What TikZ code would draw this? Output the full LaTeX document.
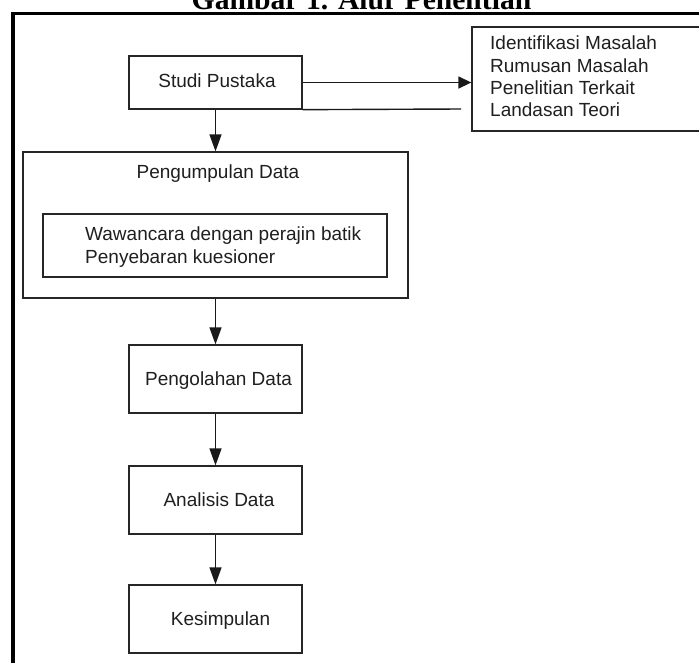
\documentclass[tikz,border=0pt]{standalone}
\usepackage{fontspec}
\setmainfont{Liberation Sans}
\newfontfamily\titlefont{Liberation Serif}
\usetikzlibrary{arrows.meta}
\begin{document}
\begin{tikzpicture}[x=1pt,y=-1pt,
  box/.style={draw=black!85, line width=1.3pt, inner sep=0pt, minimum width=173pt},
  txt/.style={font=\fontsize{19}{22}\selectfont, text=black!88, inner sep=0pt, anchor=base},
  conn/.style={draw=black!90, line width=1.4pt},
  arr/.style={conn, -{Triangle[length=17pt,width=12pt]}},
  harr/.style={conn, -{Triangle[length=13pt,width=12pt]}},
]
\useasboundingbox (0,0) rectangle (699,662);
\clip (0,0) rectangle (699,662);
\fill[white] (0,0) rectangle (699,662);

% title (cut at top)
\node[font=\titlefont\bfseries\fontsize{29.6}{32}\selectfont, anchor=base, inner sep=0pt] (title) at (361.5,9) {Gambar 1. Alur Penelitian};

% outer frame
\coordinate (fbl) at (13,700);
\coordinate (ftl) at (13,13.5);
\coordinate (ftr) at (720,13.5);
\draw[line width=3.5pt, miter limit=10] (fbl) -- (ftl) -- (ftr);

% boxes
\node[box, minimum height=53pt] (sp) at (215.5,82.5) {};
\node[box, minimum width=268pt, minimum height=104pt] (rb) at (606,79) {};
\node[box, minimum width=385pt, minimum height=146pt] (pd) at (215.5,225) {};
\node[box, minimum width=344pt, minimum height=63pt] (wc) at (215,245.5) {};
\node[box, minimum height=68pt] (pg) at (215.5,379) {};
\node[box, minimum height=68pt] (an) at (215.5,500) {};
\node[box, minimum height=68pt] (ks) at (215.5,619) {};

% texts
\node[txt] (spt) at (217,87) {Studi Pustaka};
\node[txt, anchor=base west] (rb1) at (490,49) {Identifikasi Masalah};
\node[txt, anchor=base west] (rb2) at (490,72) {Rumusan Masalah};
\node[txt, anchor=base west] (rb3) at (490,94) {Penelitian Terkait};
\node[txt, anchor=base west] (rb4) at (490,116) {Landasan Teori};
\node[txt] (pdt) at (218,178) {Pengumpulan Data};
\node[txt, anchor=base west] (wc1) at (85,240) {Wawancara dengan perajin batik};
\node[txt, anchor=base west] (wc2) at (85,263) {Penyebaran kuesioner};
\node[txt] (pgt) at (218.5,385) {Pengolahan Data};
\node[txt] (ant) at (219,506) {Analisis Data};
\node[txt] (kst) at (220.5,625) {Kesimpulan};

% connectors
\draw[harr] (sp.east) -- (sp.east -| rb.west);
\coordinate (spline) at (461,109);
\draw[conn] (sp.south east) -- (spline);
\draw[arr] (sp.south) -- (pd.north);
\draw[arr] (pd.south) -- (pg.north);
\draw[arr] (pg.south) -- (an.north);
\draw[arr] (an.south) -- (ks.north);
\end{tikzpicture}
\end{document}
